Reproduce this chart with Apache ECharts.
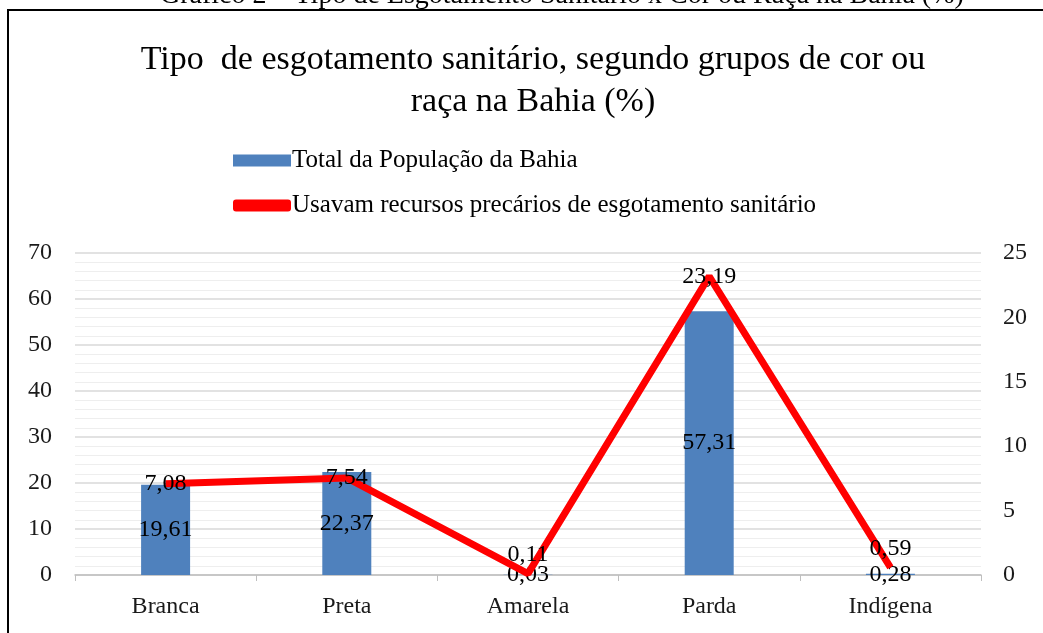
<!DOCTYPE html>
<html>
<head>
<meta charset="utf-8">
<script src="https://cdn.jsdelivr.net/npm/echarts@6/dist/echarts.min.js"></script>
<style>
  html, body { margin: 0; padding: 0; background: #fff; }
  #chart { width: 1043px; height: 633px; }
</style>
</head>
<body>
<div id="chart"></div>
<script>
  // dados
  var categorias = ['Branca', 'Preta', 'Amarela', 'Parda', 'Indígena'];
  var totalPopulacao = [19.61, 22.37, 0.03, 57.31, 0.28];
  var recursosPrecarios = [7.08, 7.54, 0.11, 23.19, 0.59];
  var serieNomes = ['Total da População da Bahia', 'Usavam recursos precários de esgotamento sanitário'];

  var fonte = '"Liberation Serif", "DejaVu Serif", serif';
  // posição dos rótulos da linha, como no Excel
  var posRotuloLinha = ['inside', 'inside', 'top', 'inside', 'top'];

  var fmt = function (p) { return String(p.value).replace('.', ','); };

  var myChart = echarts.init(document.getElementById('chart'));
  var option = {
    animation: false,
    textStyle: { fontFamily: fonte },
    graphic: [
      {
        type: 'text', left: 160, top: -18,
        style: { text: 'Gráfico 2 – Tipo de Esgotamento Sanitário x Cor ou Raça na Bahia (%)', font: '28px ' + fonte, fill: '#000' },
        z: 10
      },
      {
        type: 'rect', shape: { x: 8, y: 10, width: 1060, height: 660 },
        style: { fill: 'none', stroke: '#000', lineWidth: 2 }
      }
    ],
    title: {
      text: 'Tipo  de esgotamento sanitário, segundo grupos de cor ou\nraça na Bahia (%)',
      left: 528, textAlign: 'center', top: 34,
      textStyle: { fontFamily: fonte, fontSize: 34, fontWeight: 'normal', color: '#000', lineHeight: 42 }
    },
    legend: {
      orient: 'vertical', left: 228, top: 143,
      itemWidth: 58, itemHeight: 12, itemGap: 20,
      textStyle: { fontFamily: fonte, fontSize: 25, color: '#000', padding: [0, 0, 0, -4] },
      data: [
        { name: serieNomes[0], icon: 'rect' },
        { name: serieNomes[1], icon: 'roundRect', itemStyle: { color: '#ff0000' } }
      ]
    },
    grid: { left: 75, right: 62, top: 253, bottom: 58 },
    xAxis: {
      type: 'category', data: categorias,
      axisLine: { lineStyle: { color: '#bfbfbf', width: 1.5 } },
      axisTick: { show: true, length: 6, lineStyle: { color: '#bfbfbf' } },
      axisLabel: { fontFamily: fonte, fontSize: 24, color: '#1a1a1a', margin: 20 }
    },
    yAxis: [
      {
        type: 'value', min: 0, max: 70, interval: 10,
        axisLine: { show: false }, axisTick: { show: false },
        axisLabel: { fontFamily: fonte, fontSize: 24, color: '#1a1a1a', margin: 23 },
        splitLine: { lineStyle: { color: '#d9d9d9', width: 1.5 } },
        minorTick: { show: false, splitNumber: 5 },
        minorSplitLine: { show: true, lineStyle: { color: '#eeeeee', width: 1 } }
      },
      {
        type: 'value', min: 0, max: 25, interval: 5,
        axisLine: { show: false }, axisTick: { show: false },
        axisLabel: { fontFamily: fonte, fontSize: 24, color: '#1a1a1a', margin: 22 },
        splitLine: { show: false }
      }
    ],
    series: [
      {
        name: serieNomes[0], type: 'bar', data: totalPopulacao,
        barWidth: 49, yAxisIndex: 0,
        itemStyle: { color: '#4f81bd' },
        label: { show: true, position: 'inside', formatter: fmt, fontFamily: fonte, fontSize: 24, color: '#000' },
        z: 2
      },
      {
        name: serieNomes[1], type: 'line', yAxisIndex: 1,
        data: recursosPrecarios.map(function (v, i) {
          return { value: v, label: { position: posRotuloLinha[i], distance: 6 } };
        }),
        symbol: 'circle', symbolSize: 1, showSymbol: true,
        lineStyle: { color: '#ff0000', width: 7 },
        itemStyle: { color: '#ff0000' },
        label: { show: true, formatter: fmt, fontFamily: fonte, fontSize: 24, color: '#000' },
        z: 3
      }
    ]
  };
  myChart.setOption(option);
</script>
</body>
</html>
